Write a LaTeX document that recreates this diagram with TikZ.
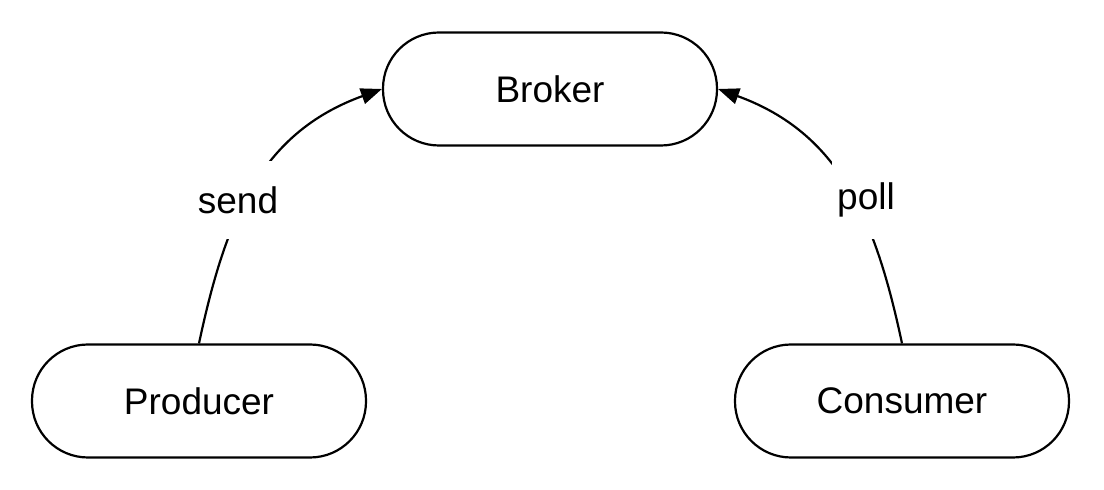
\documentclass[tikz,border=0pt]{standalone}
\usepackage{fontspec}
\setmainfont{Liberation Sans}
\usetikzlibrary{arrows.meta}
\begin{document}
\begin{tikzpicture}[x=1pt,y=1pt,
  state/.style={draw, line width=2.2pt, rounded corners=56pt, minimum width=334pt, minimum height=113pt, font=\fontsize{37}{44}\selectfont, inner sep=0pt},
  lbl/.style={fill=white, font=\fontsize{37}{44}\selectfont, minimum height=78pt, inner xsep=5pt, inner ysep=0pt},
  conn/.style={line width=2.2pt, -{Triangle[length=21pt,width=16pt]}}]
\useasboundingbox[fill=white] (0,0) rectangle (1104,490);
\node[state] (broker) at (550,401) {Broker};
\node[state] (producer) at (199,89) {Producer};
\node[state] (consumer) at (902,89) {Consumer};
\draw[conn] (producer.north) to[out=78,in=200,looseness=1.05] (broker.west);
\draw[conn] (consumer.north) to[out=102,in=-20,looseness=1.05] (broker.east);
\node[lbl] (send) at (238,290) {send};
\node[lbl] (poll) at (866,290) {poll};
\end{tikzpicture}
\end{document}
